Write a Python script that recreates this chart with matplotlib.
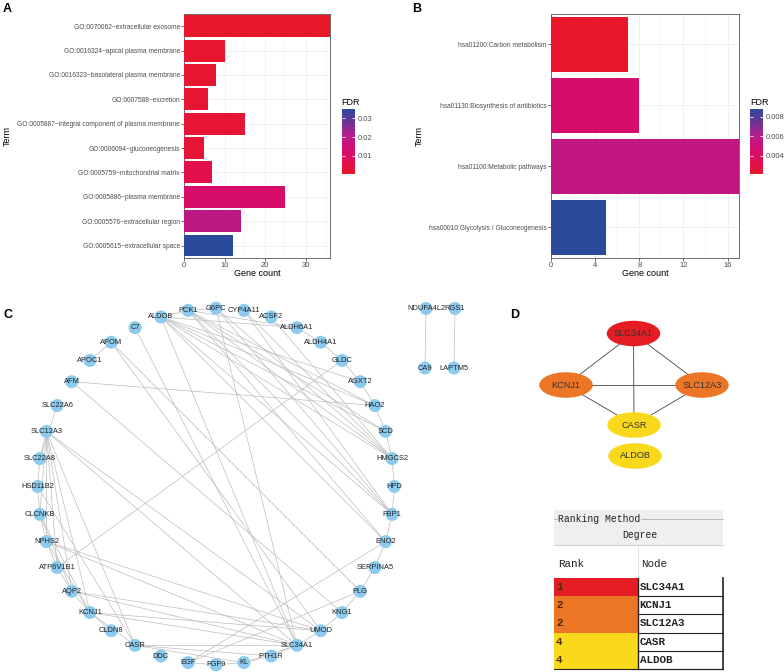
import matplotlib
matplotlib.use('Agg')
import matplotlib.pyplot as plt
import numpy as np
from matplotlib.colors import LinearSegmentedColormap, Normalize
from matplotlib.patches import Circle, Ellipse, Rectangle

plt.rcParams.update({
    'font.family': ['Liberation Sans', 'DejaVu Sans'],
    'font.size': 6,
    'figure.facecolor': 'white',
})

# ---- panel A: GO terms (top to bottom) ----
GO_TERMS = [
    'GO:0070062~extracellular exosome',
    'GO:0016324~apical plasma membrane',
    'GO:0016323~basolateral plasma membrane',
    'GO:0007588~excretion',
    'GO:0005887~integral component of plasma membrane',
    'GO:0006094~gluconeogenesis',
    'GO:0005759~mitochondrial matrix',
    'GO:0005886~plasma membrane',
    'GO:0005576~extracellular region',
    'GO:0005615~extracellular space',
]
GO_COUNT = [36, 10, 8, 6, 15, 5, 7, 25, 14, 12]
GO_FDR = [0.0002, 0.001, 0.0012, 0.0015, 0.002, 0.0022, 0.006, 0.012, 0.019, 0.035]

# ---- panel B: KEGG pathways (top to bottom) ----
KEGG_TERMS = [
    'hsa01200:Carbon metabolism',
    'hsa01130:Biosynthesis of antibiotics',
    'hsa01100:Metabolic pathways',
    'hsa00010:Glycolysis / Gluconeogenesis',
]
KEGG_COUNT = [7, 8, 17, 5]
KEGG_FDR = [0.0021, 0.0045, 0.0055, 0.0088]

# ---- panel C: PPI network (circle order, counter-clockwise from HPD) ----
RING_NODES = [
    'HPD', 'HMGCS2', 'SCD', 'HAO2', 'AGXT2', 'GLDC', 'ALDH4A1', 'ALDH6A1',
    'ACSF2', 'CYP4A11', 'G6PC', 'PCK1', 'ALDOB', 'C7', 'APOM', 'APOC1', 'AFM',
    'SLC22A6', 'SLC12A3', 'SLC22A8', 'HSD11B2', 'CLCNKB', 'NPHS2', 'ATP6V1B1',
    'AQP2', 'KCNJ1', 'CLDN8', 'CASR', 'DDC', 'EGF', 'FGF9', 'KL', 'PTH1R',
    'SLC34A1', 'UMOD', 'KNG1', 'PLG', 'SERPINA5', 'ENO2', 'FBP1',
]
RING_EDGES = [
    ('ALDOB', 'PCK1'), ('PCK1', 'G6PC'), ('ALDOB', 'ALDH6A1'), ('ALDOB', 'AGXT2'),
    ('ALDOB', 'HAO2'), ('ALDOB', 'SCD'), ('ALDOB', 'HMGCS2'), ('ALDOB', 'FBP1'),
    ('ALDOB', 'ENO2'), ('ALDOB', 'SLC34A1'),
    ('PCK1', 'HAO2'), ('PCK1', 'SCD'), ('PCK1', 'HMGCS2'), ('PCK1', 'FBP1'),
    ('PCK1', 'ENO2'), ('PCK1', 'ALDH6A1'),
    ('G6PC', 'HMGCS2'), ('G6PC', 'FBP1'), ('G6PC', 'SLC34A1'),
    ('CYP4A11', 'HMGCS2'), ('CYP4A11', 'FBP1'), ('ACSF2', 'HMGCS2'),
    ('ALDH6A1', 'ALDH4A1'), ('ALDH4A1', 'GLDC'), ('GLDC', 'AGXT2'), ('AGXT2', 'HAO2'),
    ('HAO2', 'SCD'), ('SCD', 'HMGCS2'), ('HMGCS2', 'HPD'), ('HPD', 'FBP1'),
    ('FBP1', 'ENO2'), ('ENO2', 'SERPINA5'), ('SERPINA5', 'PLG'), ('PLG', 'KNG1'),
    ('KNG1', 'UMOD'),
    ('GLDC', 'ATP6V1B1'), ('AFM', 'HAO2'), ('AFM', 'KNG1'), ('APOM', 'APOC1'),
    ('APOM', 'PLG'), ('APOM', 'UMOD'), ('C7', 'SLC34A1'),
    ('EGF', 'ENO2'), ('EGF', 'PLG'), ('EGF', 'FGF9'), ('FGF9', 'KL'),
    ('KL', 'PTH1R'), ('KL', 'SLC34A1'), ('PTH1R', 'CASR'), ('PTH1R', 'SLC34A1'),
    ('CASR', 'SLC34A1'), ('CASR', 'KCNJ1'), ('CASR', 'SLC12A3'), ('CASR', 'HSD11B2'),
    ('CASR', 'KL'),
    ('SLC12A3', 'SLC22A8'), ('SLC12A3', 'CLCNKB'), ('SLC12A3', 'NPHS2'),
    ('SLC12A3', 'AQP2'), ('SLC12A3', 'KCNJ1'), ('SLC12A3', 'SLC34A1'),
    ('SLC12A3', 'UMOD'), ('SLC12A3', 'ATP6V1B1'),
    ('SLC22A6', 'SLC22A8'), ('SLC22A8', 'HSD11B2'), ('HSD11B2', 'CLCNKB'),
    ('CLCNKB', 'NPHS2'), ('CLCNKB', 'KCNJ1'), ('CLCNKB', 'AQP2'),
    ('NPHS2', 'SLC34A1'), ('NPHS2', 'UMOD'), ('NPHS2', 'ATP6V1B1'), ('NPHS2', 'KCNJ1'),
    ('ATP6V1B1', 'AQP2'), ('AQP2', 'KCNJ1'), ('AQP2', 'UMOD'), ('AQP2', 'SLC34A1'),
    ('KCNJ1', 'UMOD'), ('KCNJ1', 'SLC34A1'), ('KCNJ1', 'CLDN8'), ('UMOD', 'SLC34A1'),
]
PAIR_NODES = ['NDUFA4L2', 'CA9', 'RGS1', 'LAPTM5']
PAIR_EDGES = [('NDUFA4L2', 'CA9'), ('RGS1', 'LAPTM5')]

# ---- panel D: hub genes ----
HUB_NODES = ['SLC34A1', 'KCNJ1', 'SLC12A3', 'CASR', 'ALDOB']
HUB_RANK = [1, 2, 2, 4, 4]
HUB_EDGES = [('SLC34A1', 'KCNJ1'), ('SLC34A1', 'SLC12A3'), ('SLC34A1', 'CASR'),
             ('KCNJ1', 'SLC12A3'), ('KCNJ1', 'CASR'), ('SLC12A3', 'CASR')]
RANK_COLORS = {1: '#E41D25', 2: '#EC7626', 4: '#FAD81C'}

FDR_CMAP = LinearSegmentedColormap.from_list(
    'fdr', ['#E8172A', '#DF0F55', '#D20E72', '#B41E8C', '#6A3595', '#2B4A9C'])

W, H = 784, 672
fig = plt.figure(figsize=(W / 100, H / 100), dpi=100)


def px_axes(x0, y0, x1, y1):
    return fig.add_axes([x0 / W, 1 - y1 / H, (x1 - x0) / W, (y1 - y0) / H])


def bar_panel(rect, terms, counts, fdr, xmax, xticks, minor, cbar_rect, term_x):
    ax = px_axes(*rect)
    n = len(terms)
    ypos = np.arange(n)[::-1] + 1
    norm = Normalize(min(fdr), max(fdr))
    ax.barh(ypos, counts, height=0.9, color=FDR_CMAP(norm(np.array(fdr))), zorder=3)
    ax.set_xlim(0, xmax)
    ax.set_ylim(0.5, n + 0.5)
    ax.set_yticks(ypos)
    ax.set_yticklabels(terms, fontsize=4.8, color='#4D4D4D')
    ax.set_xticks(xticks)
    ax.set_xticks(minor, minor=True)
    ax.tick_params(axis='x', labelsize=5.5, labelcolor='#4D4D4D', length=2,
                   width=0.5, color='#333333', pad=1)
    ax.tick_params(axis='y', length=2, width=0.5, color='#333333', pad=1)
    ax.tick_params(axis='x', which='minor', length=0)
    ax.grid(True, which='major', color='#EBEBEB', lw=0.5, zorder=0)
    ax.grid(True, which='minor', axis='x', color='#F2F2F2', lw=0.35, zorder=0)
    ax.set_axisbelow(True)
    for s in ax.spines.values():
        s.set_color('#555555')
        s.set_linewidth(0.6)
    ax.set_xlabel('Gene count', fontsize=6.5)
    ax.xaxis.set_label_coords(0.5, -0.045)
    ax.set_ylabel('Term', fontsize=6.5)
    ax.yaxis.set_label_coords((term_x + 4 - rect[0]) / (rect[2] - rect[0]), 0.5)

    cax = px_axes(*cbar_rect)
    sm = plt.cm.ScalarMappable(norm=norm, cmap=FDR_CMAP)
    cb = fig.colorbar(sm, cax=cax)
    cb.outline.set_visible(False)
    cax.tick_params(which='both', direction='in', length=2.5, width=0.6,
                    color='white', left=True, right=True, labelsize=5.5,
                    labelcolor='#4D4D4D', pad=2)
    cax.set_title('FDR', fontsize=6.5, loc='left', pad=3)
    return ax, cb


axA, cbA = bar_panel((184, 14, 330, 257.7), GO_TERMS, GO_COUNT, GO_FDR, 36,
                     [0, 10, 20, 30], [5, 15, 25, 35], (341.7, 109, 355, 174), 8)
cbA.set_ticks([0.01, 0.02, 0.03])
cbA.set_ticklabels(['0.01', '0.02', '0.03'])

axB, cbB = bar_panel((551, 14, 738.7, 257.7), KEGG_TERMS, KEGG_COUNT, KEGG_FDR, 17,
                     [0, 4, 8, 12, 16], [2, 6, 10, 14], (750.3, 109, 763, 174), 420)
cbB.set_ticks([0.004, 0.006, 0.008])
cbB.set_ticklabels(['0.004', '0.006', '0.008'])

# ---- lower half canvas in pixel units ----
cv = fig.add_axes([0, 0, 1, 1], zorder=-1)
cv.set_xlim(0, W)
cv.set_ylim(H, 0)
cv.axis('off')

# circular layout for panel C
cx, cy, r = 216.0, 486.5, 178.3
ang = np.deg2rad(np.arange(len(RING_NODES)) * 360.0 / len(RING_NODES))
pos = {n: (cx + r * np.cos(a), cy - r * np.sin(a)) for n, a in zip(RING_NODES, ang)}
pos.update({'NDUFA4L2': (426, 308.5), 'CA9': (425, 368),
            'RGS1': (455, 308.5), 'LAPTM5': (454, 368)})

for a, b in RING_EDGES + PAIR_EDGES:
    (x1, y1), (x2, y2) = pos[a], pos[b]
    cv.plot([x1, x2], [y1, y2], color='#BDBDBD', lw=0.5, zorder=1)
for n in RING_NODES + PAIR_NODES:
    x, y = pos[n]
    cv.add_patch(Circle((x, y), 6.5, facecolor='#8DCBEE', edgecolor='none', zorder=2))
    cv.text(x, y, n, ha='center', va='center', fontsize=5.4, color='#222222', zorder=3)

# panel D network
dpos = {'SLC34A1': (633.5, 333.5), 'KCNJ1': (566, 385), 'SLC12A3': (702, 385),
        'CASR': (634, 425), 'ALDOB': (635, 456)}
for a, b in HUB_EDGES:
    (x1, y1), (x2, y2) = dpos[a], dpos[b]
    cv.plot([x1, x2], [y1, y2], color='#444444', lw=0.6, zorder=1)
for n, rk in zip(HUB_NODES, HUB_RANK):
    x, y = dpos[n]
    cv.add_patch(Ellipse((x, y), 53.5, 25.5, facecolor=RANK_COLORS[rk],
                         edgecolor='none', zorder=2))
    cv.text(x, y, n, ha='center', va='center', fontsize=6.6, color='#333333', zorder=3)

# ranking table
tfont = dict(family=['Liberation Mono', 'DejaVu Sans Mono'], color='#222222')
tl, tm, tr = 554, 637.7, 723
cv.add_patch(Rectangle((tl, 510), tr - tl, 35, facecolor='#EFEFEF', edgecolor='none'))
cv.plot([tl, tl + 3], [518.5, 518.5], color='#B0B0B0', lw=0.6)
cv.plot([641, tr], [518.5, 518.5], color='#B0B0B0', lw=0.6)
cv.plot([tl, tr], [545, 545], color='#C8C8C8', lw=0.6)
cv.text(tl + 4, 518.5, 'Ranking Method', fontsize=7, va='center', **tfont)
cv.text(640, 534.5, 'Degree', fontsize=7, ha='center', va='center', **tfont)
cv.plot([tm, tm], [547, 578], color='#DDDDDD', lw=0.6)
cv.text(tl + 4, 564, 'Rank', fontsize=7.8, va='center', **tfont)
cv.text(tm + 3, 564, 'Node', fontsize=7.8, va='center', **tfont)

row_h = 18.2
top = 578
for i, (n, rk) in enumerate(zip(HUB_NODES, HUB_RANK)):
    y0 = top + i * row_h
    cv.add_patch(Rectangle((tl, y0), tm - tl, row_h, facecolor=RANK_COLORS[rk],
                           edgecolor='none'))
    cv.plot([tm, tr], [y0 + row_h, y0 + row_h], color='#222222', lw=0.8)
    cv.text(tl + 2, y0 + row_h / 2, str(rk), fontsize=7.8, va='center',
            fontweight='bold', family=tfont['family'], color='#4A2A00')
    cv.text(tm + 2, y0 + row_h / 2, n, fontsize=7.8, va='center',
            fontweight='bold', **tfont)
bottom = top + len(HUB_NODES) * row_h
cv.plot([tm, tm], [top, bottom], color='#222222', lw=1.0)
cv.plot([tr, tr], [top, bottom], color='#222222', lw=1.2)
cv.plot([tl, tr], [bottom, bottom], color='#222222', lw=0.8)

# panel letters
for lab, x, y in [('A', 3, 3), ('B', 412, 3), ('C', 3, 309), ('D', 510, 309)]:
    fig.text(x / W, 1 - y / H, lab, fontsize=9, fontweight='bold', va='top', ha='left')

plt.savefig('out.png', dpi=100)
